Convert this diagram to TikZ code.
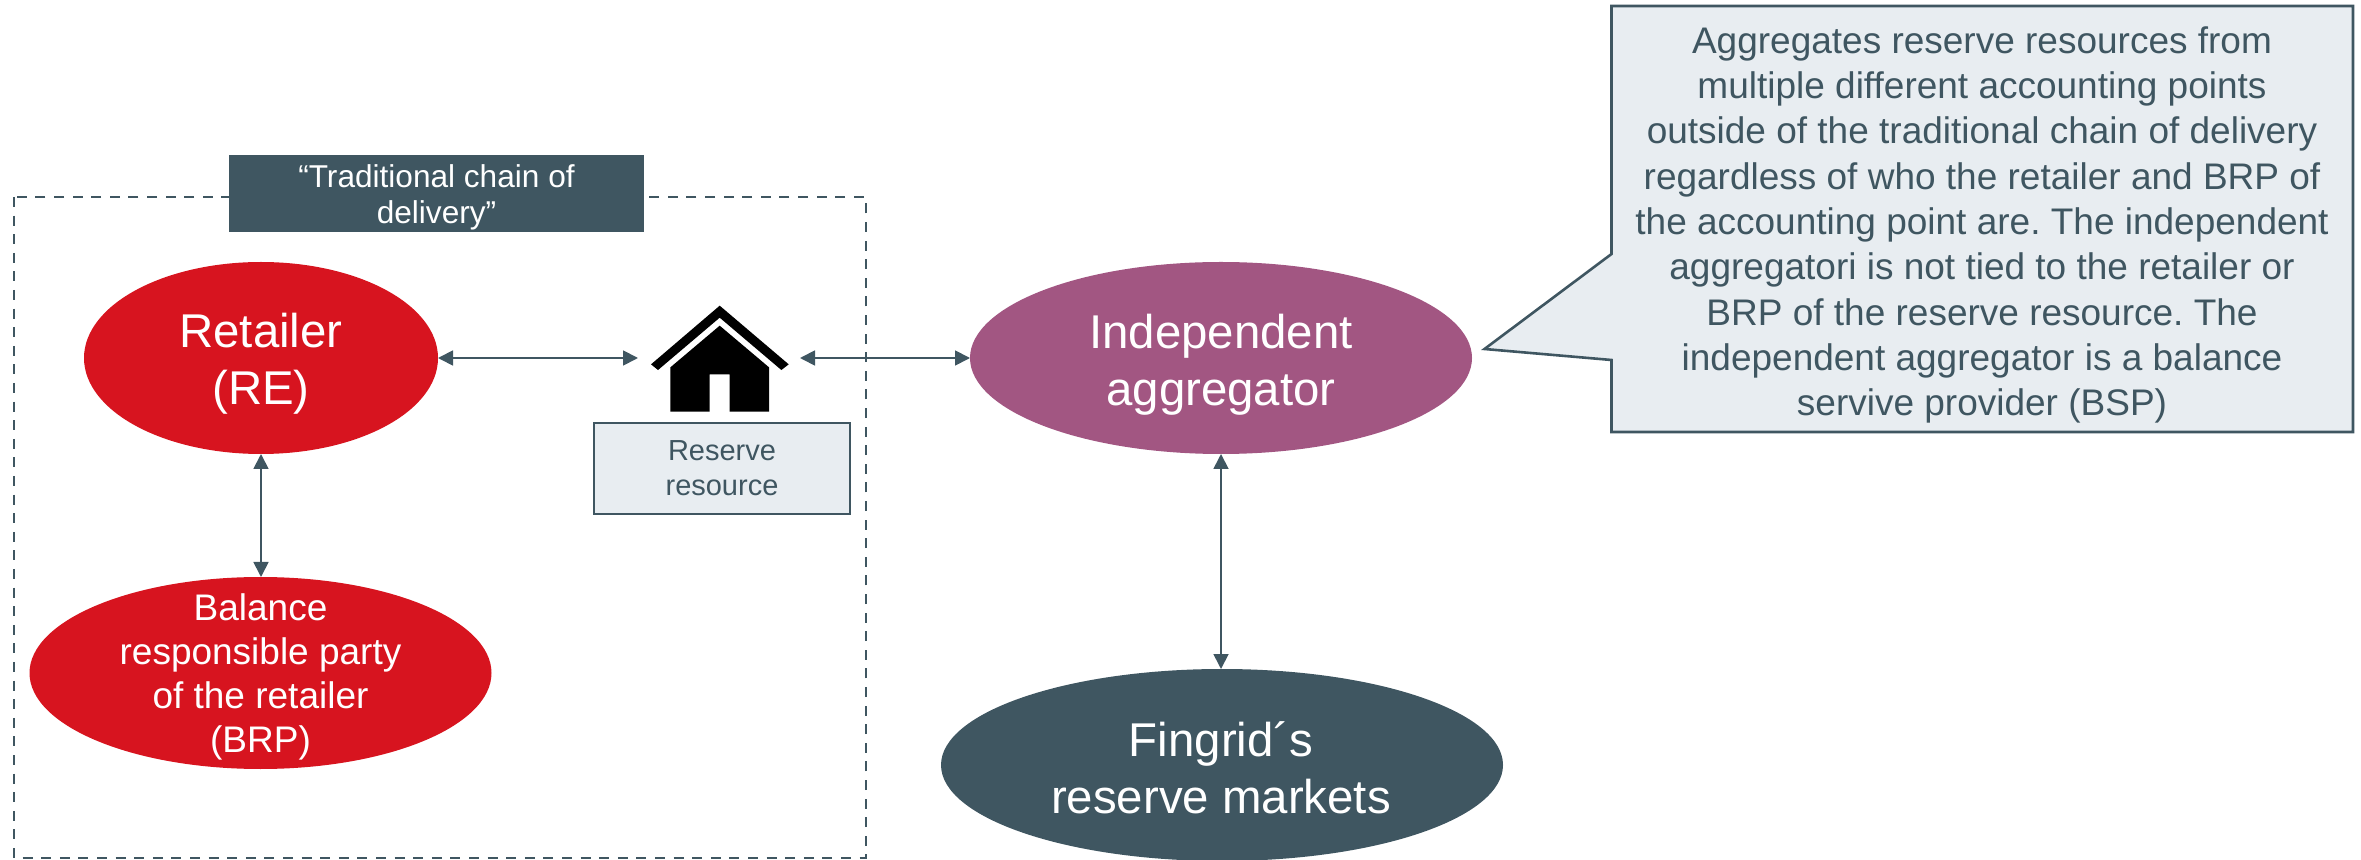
\documentclass[tikz,border=0pt]{standalone}
\usepackage{fontspec}
\setmainfont{Liberation Sans}
\frenchspacing
\usetikzlibrary{shapes.geometric,arrows.meta}
\definecolor{fgdark}{HTML}{3F5661}
\definecolor{fgred}{HTML}{D7141F}
\definecolor{fgpurple}{HTML}{A25682}
\definecolor{fglight}{HTML}{E8EDF1}
\tikzset{
  ell/.style={ellipse,inner sep=0pt,outer sep=0pt,draw=none},
  bigtext/.style={align=center,inner sep=0pt,text=white,font=\fontsize{23.7pt}{28.5pt}\selectfont},
  midtext/.style={align=center,inner sep=0pt,text=white,font=\fontsize{18.5pt}{22.1pt}\selectfont},
  lightbox/.style={draw=fgdark,fill=fglight,line width=1.3pt},
  link/.style={draw=fgdark,line width=0.9pt,{Triangle[length=7.5pt,width=7.5pt]}-{Triangle[length=7.5pt,width=7.5pt]}},
}
\begin{document}
\begin{tikzpicture}[x=0.5pt,y=-0.5pt]
\useasboundingbox (0,0) rectangle (2361,860);
\clip (0,0) rectangle (2361,860);
% dashed frame
\draw[draw=fgdark,line width=1.4pt,dash pattern=on 5pt off 4.3pt] (14,197) rectangle (866,858);
% frame title
\node[fill=fgdark,minimum width=207.5pt,minimum height=38.5pt,inner sep=0pt,outer sep=0pt,align=center,text=white] (frametitle) at (436.5,193.5) {};
\node[align=center,inner sep=0pt,text=white,font=\fontsize{15.8pt}{18pt}\selectfont] (frametitletext) at (436.5,197.5) {“Traditional chain of\\delivery”};
% ellipses
\node[ell,fill=fgred,minimum width=177pt,minimum height=96pt] (retailer) at (261,358) {};
\node[bigtext] (retailertext) at (261,364) {Retailer\\(RE)};
\node[ell,fill=fgred,minimum width=231pt,minimum height=96pt] (brp) at (260.5,673) {};
\node[midtext] (brptext) at (260.5,677) {Balance\\responsible party\\of the retailer\\(BRP)};
\node[ell,fill=fgpurple,minimum width=251pt,minimum height=96pt] (indep) at (1221,358) {};
\node[bigtext] (indeptext) at (1221,365) {Independent\\aggregator};
\node[ell,fill=fgdark,minimum width=281pt,minimum height=96pt] (fingrid) at (1222,765) {};
\node[bigtext] (fingridtext) at (1221,768) {Fingrid´s\\reserve markets};
% house
\begin{scope}[shift={(580,280)},x=0.1667pt,y=-0.1667pt]
\fill[black] (213,253) -- (419,77) -- (626,253) -- (604,270) -- (419,113) -- (234,270) -- cycle;
\fill[black] (271,262) -- (419,137) -- (567,262) -- (567,395) -- (449,395) -- (449,283) -- (389,283) -- (389,395) -- (271,395) -- cycle;
\end{scope}
\coordinate (houseL) at (638,358);
\coordinate (houseR) at (800,358);
% reserve resource
\node[lightbox,line width=1pt,minimum width=128pt,minimum height=45.5pt,inner sep=0pt,outer sep=0pt] (resource) at (722,468.5) {};
\node[align=center,inner sep=0pt,text=fgdark,font=\fontsize{14.5pt}{17.5pt}\selectfont] (resourcetext) at (722,468.5) {Reserve\\resource};
% connectors
\draw[link] (retailer.east) -- (houseL);
\draw[link] (houseR) -- (indep.west);
\draw[link] (retailer.south) -- (retailer.south |- brp.north);
\draw[link] (indep.south) -- (indep.south |- fingrid.north);
% callout
\draw[lightbox,line join=miter] (1611.5,6) -- (2353,6) -- (2353,432) -- (1611.5,432) -- (1611.5,360) -- (1484.5,349) -- (1611.5,254) -- cycle;
\node[align=center,inner sep=0pt,text=fgdark,font=\fontsize{18.5pt}{22.65pt}\selectfont] (callouttext) at (1982,225) {Aggregates reserve resources from\\multiple different accounting points\\outside of the traditional chain of delivery\\regardless of who the retailer and BRP of\\the accounting point are. The independent\\aggregatori is not tied to the retailer or\\BRP of the reserve resource. The\\independent aggregator is a balance\\servive provider (BSP)};
\end{tikzpicture}
\end{document}
